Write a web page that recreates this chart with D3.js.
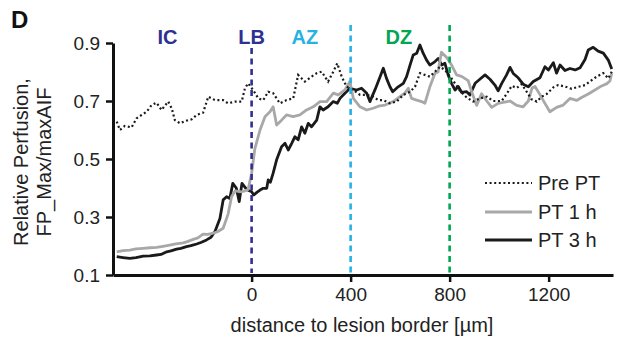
<!DOCTYPE html>
<html>
<head>
<meta charset="utf-8">
<script src="https://cdn.jsdelivr.net/npm/d3@7"></script>
<style>
  html, body { margin: 0; padding: 0; background: #fff; }
  svg { display: block; font-family: "Liberation Sans", Arial, Helvetica, sans-serif; }
</style>
</head>
<body>
<svg id="chart" width="619" height="345"></svg>
<script>
// ---------- data ----------
const preDist = [-545,-532,-512,-485,-465,-444,-424,-404,-384,-364,-337,-323,-310,-289,-269,-242,-222,-196,-175,-148,-115,-95,-67,-40,-27,-14,6,27,47,67,87,114,141,168,188,215,242,263,283,309,330,346,364,384,411,438,465,491,512,532,559,586,613,640,660,680,700,720,741,761,781,808,842,869,895,922,950,976,1010,1030,1051,1071,1091,1111,1131,1152,1172,1192,1219,1239,1266,1293,1320,1347,1374,1394,1421,1441,1455];
const preVal  = [0.629,0.600,0.614,0.609,0.640,0.652,0.663,0.686,0.694,0.669,0.698,0.675,0.634,0.623,0.631,0.637,0.652,0.660,0.715,0.703,0.703,0.692,0.698,0.698,0.744,0.761,0.738,0.709,0.703,0.732,0.727,0.692,0.703,0.709,0.790,0.767,0.784,0.796,0.801,0.767,0.801,0.830,0.784,0.749,0.738,0.721,0.721,0.715,0.703,0.703,0.692,0.698,0.721,0.732,0.749,0.796,0.790,0.784,0.801,0.818,0.807,0.778,0.735,0.712,0.698,0.709,0.715,0.700,0.700,0.724,0.752,0.745,0.758,0.732,0.706,0.698,0.715,0.724,0.747,0.755,0.750,0.742,0.749,0.755,0.772,0.784,0.796,0.778,0.801];

const pt1Dist = [-545,-520,-492,-467,-438,-411,-384,-358,-331,-306,-276,-257,-236,-217,-196,-177,-155,-136,-115,-95,-81,-67,-40,-27,-14,0,13,34,54,74,87,101,121,141,168,195,222,249,276,303,330,350,377,397,411,438,465,491,512,539,572,599,619,633,646,667,687,700,720,741,753,767,788,808,828,848,875,889,909,929,950,970,996,1017,1044,1071,1097,1118,1133,1145,1165,1185,1205,1232,1259,1286,1313,1333,1360,1387,1414,1436,1448,1455];
const pt1Val  = [0.180,0.184,0.186,0.190,0.192,0.194,0.195,0.199,0.203,0.207,0.211,0.216,0.223,0.228,0.241,0.240,0.244,0.250,0.261,0.310,0.370,0.390,0.387,0.390,0.395,0.451,0.535,0.600,0.646,0.663,0.680,0.617,0.634,0.652,0.646,0.652,0.669,0.680,0.698,0.698,0.727,0.721,0.738,0.767,0.709,0.680,0.669,0.675,0.682,0.686,0.698,0.715,0.727,0.744,0.709,0.703,0.698,0.692,0.749,0.796,0.800,0.868,0.850,0.824,0.790,0.785,0.770,0.732,0.685,0.725,0.700,0.678,0.692,0.695,0.700,0.685,0.680,0.700,0.745,0.750,0.722,0.692,0.663,0.678,0.686,0.709,0.702,0.712,0.724,0.738,0.752,0.760,0.770,0.796];

const pt3Dist = [-545,-520,-492,-467,-438,-411,-384,-366,-343,-326,-303,-286,-263,-245,-222,-205,-182,-164,-148,-128,-115,-101,-88,-76,-62,-50,-39,-20,0,9,21,34,47,61,67,76,87,101,121,135,148,162,175,188,202,215,229,242,263,276,289,309,330,346,357,377,397,424,444,465,478,499,519,532,545,559,570,592,613,626,640,653,667,680,693,707,720,741,754,768,781,794,808,822,835,848,869,882,903,922,943,963,983,996,1010,1030,1044,1057,1077,1097,1118,1138,1165,1185,1199,1219,1232,1246,1266,1286,1307,1327,1347,1360,1380,1400,1421,1441,1455];
const pt3Val  = [0.163,0.160,0.157,0.160,0.165,0.166,0.169,0.171,0.180,0.183,0.189,0.192,0.198,0.201,0.207,0.212,0.221,0.230,0.250,0.295,0.359,0.370,0.364,0.416,0.400,0.353,0.416,0.395,0.387,0.376,0.385,0.393,0.399,0.399,0.428,0.420,0.451,0.497,0.542,0.554,0.531,0.554,0.577,0.566,0.611,0.589,0.623,0.611,0.634,0.680,0.669,0.680,0.698,0.692,0.709,0.727,0.744,0.738,0.744,0.727,0.698,0.740,0.784,0.813,0.778,0.749,0.732,0.749,0.761,0.784,0.824,0.859,0.865,0.893,0.865,0.841,0.824,0.836,0.847,0.824,0.830,0.790,0.760,0.738,0.750,0.730,0.732,0.721,0.761,0.775,0.790,0.775,0.755,0.735,0.760,0.790,0.816,0.795,0.780,0.758,0.749,0.767,0.780,0.818,0.807,0.832,0.796,0.824,0.805,0.812,0.807,0.815,0.843,0.876,0.885,0.872,0.865,0.841,0.810];

const xTicks = [0, 400, 800, 1200];
const yTicks = [0.1, 0.3, 0.5, 0.7, 0.9];
const zoneLabels = ["IC", "LB", "AZ", "DZ"];
const zoneAt = [-340, 0, 215, 595];
const zoneLines = [0, 400, 800];
const zoneColors = ["#2e3192", "#2e3192", "#27b2e3", "#00a651"];
const lineColors = ["#2e3192", "#27b2e3", "#00a651"];
const seriesNames = ["Pre PT", "PT 1 h", "PT 3 h"];

// ---------- chart ----------
const svg = d3.select("#chart");
const x = d3.scaleLinear().domain([-560, 1460]).range([113, 613]);
const y = d3.scaleLinear().domain([0.1, 0.9]).range([275, 43]);

// axes
const yAxis = svg.append("g").attr("transform", "translate(113,0)")
  .call(d3.axisLeft(y).tickValues(yTicks).tickFormat(d3.format(".1f")).tickSize(7).tickSizeOuter(0).tickPadding(6));
const xAxis = svg.append("g").attr("transform", "translate(0,275)")
  .call(d3.axisBottom(x).tickValues(xTicks).tickFormat(d3.format("d")).tickSize(7).tickSizeOuter(0).tickPadding(6));
[xAxis, yAxis].forEach(g => {
  g.select(".domain").attr("stroke", "#111").attr("stroke-width", 3);
  g.selectAll(".tick line").attr("stroke", "#111").attr("stroke-width", 2.5);
  g.selectAll(".tick text").attr("fill", "#222").style("font-size", "19px")
    .style("font-family", '"Liberation Sans", Arial, sans-serif');
});

// series lines
const line = (xs, vs) => d3.line().x((d, i) => x(xs[i])).y((d, i) => y(vs[i]))(vs);
svg.append("path").attr("d", line(pt3Dist, pt3Val)).attr("fill", "none")
  .attr("stroke", "#1a1a1a").attr("stroke-width", 2.8).attr("stroke-linejoin", "round");
svg.append("path").attr("d", line(pt1Dist, pt1Val)).attr("fill", "none")
  .attr("stroke", "#a8a8a8").attr("stroke-width", 2.8).attr("stroke-linejoin", "round");
svg.append("path").attr("d", line(preDist, preVal)).attr("fill", "none")
  .attr("stroke", "#1a1a1a").attr("stroke-width", 2.2).attr("stroke-dasharray", "2 2.6");

// zone dashed lines
zoneLines.forEach((v, i) => {
  svg.append("line").attr("x1", x(v)).attr("x2", x(v))
    .attr("y1", i === 0 ? 48 : 25).attr("y2", 273)
    .attr("stroke", lineColors[i]).attr("stroke-width", 2.6).attr("stroke-dasharray", "6 4.5");
});

// zone labels
zoneLabels.forEach((t, i) => {
  svg.append("text").attr("x", x(zoneAt[i])).attr("y", 44).attr("text-anchor", "middle")
    .attr("fill", zoneColors[i]).style("font-size", "20px").style("font-weight", "bold").text(t);
});

// panel letter
svg.append("text").attr("x", 11).attr("y", 28).style("font-size", "24px").style("font-weight", "bold")
  .attr("fill", "#111").text("D");

// axis titles
svg.append("text").attr("transform", "translate(28,162) rotate(-90)").attr("text-anchor", "middle")
  .style("font-size", "20px").attr("fill", "#222").text("Relative Perfusion,");
svg.append("text").attr("transform", "translate(51,162) rotate(-90)").attr("text-anchor", "middle")
  .style("font-size", "20px").attr("fill", "#222").text("FP_Max/maxAIF");
svg.append("text").attr("x", 362).attr("y", 332).attr("text-anchor", "middle")
  .style("font-size", "20px").attr("fill", "#222").text("distance to lesion border [µm]");

// legend
const legY = [183, 212, 240];
const legStyle = [
  {stroke: "#1a1a1a", w: 2.2, dash: "2 2.6"},
  {stroke: "#a8a8a8", w: 2.8, dash: null},
  {stroke: "#1a1a1a", w: 2.8, dash: null}
];
seriesNames.forEach((n, i) => {
  const l = svg.append("line").attr("x1", 485).attr("x2", 532).attr("y1", legY[i]).attr("y2", legY[i])
    .attr("stroke", legStyle[i].stroke).attr("stroke-width", legStyle[i].w);
  if (legStyle[i].dash) l.attr("stroke-dasharray", legStyle[i].dash);
  svg.append("text").attr("x", 538).attr("y", legY[i] + 7).style("font-size", "20px")
    .attr("fill", "#222").text(n);
});
</script>
</body>
</html>
